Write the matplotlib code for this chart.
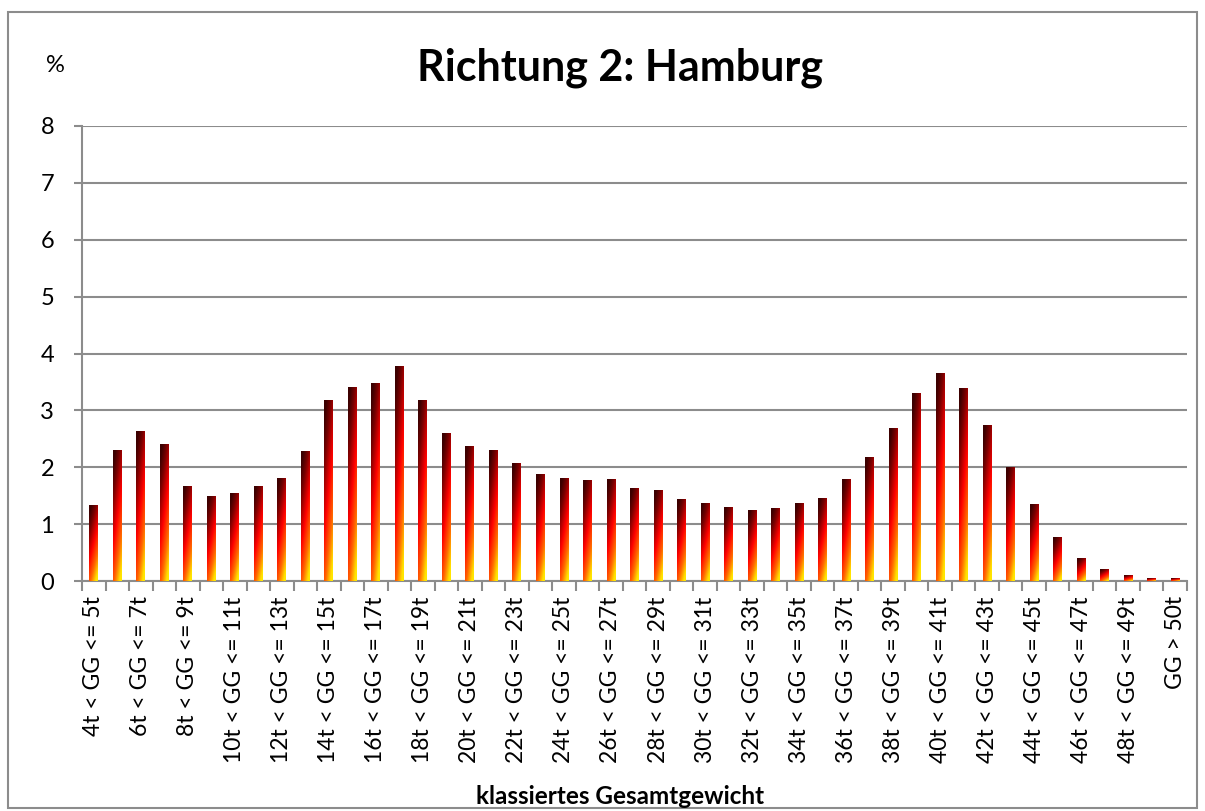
import matplotlib
matplotlib.use("Agg")
import matplotlib.pyplot as plt
import numpy as np
from matplotlib.colors import LinearSegmentedColormap
from matplotlib.patches import Rectangle

lower = list(range(4, 50))
categories = [f"{a}t < GG <= {a+1}t" for a in lower] + ["GG > 50t"]
values = [1.33, 2.30, 2.62, 2.40, 1.66, 1.48, 1.54, 1.66, 1.80, 2.27,
          3.18, 3.40, 3.47, 3.77, 3.18, 2.60, 2.36, 2.30, 2.06, 1.87,
          1.80, 1.77, 1.78, 1.62, 1.59, 1.43, 1.36, 1.29, 1.24, 1.27,
          1.36, 1.45, 1.78, 2.17, 2.68, 3.29, 3.65, 3.38, 2.73, 2.00,
          1.34, 0.76, 0.39, 0.20, 0.09, 0.05, 0.04]
yticks = [0, 1, 2, 3, 4, 5, 6, 7, 8]
title = "Richtung 2: Hamburg"
xlabel = "klassiertes Gesamtgewicht"
ylabel = "%"

plt.rcParams['font.family'] = ['Lato', 'DejaVu Sans']

fig = plt.figure(figsize=(12.05, 8.11), dpi=100)
ax = fig.add_axes([82/1205, 1-581/811, (1187-82)/1205, (581-126)/811])

cmap = LinearSegmentedColormap.from_list(
    "bar", [(0.0, "#3c0000"), (0.2, "#7a0000"), (0.5, "#ff0000"),
            (0.78, "#ff6a00"), (1.0, "#ffe600")])

n = len(values)
x = np.arange(n)
width = 0.38
ny, nx = 60, 12
vv = np.linspace(0, 1, ny)[:, None]
hh = np.linspace(0, 1, nx)[None, :]
grad = np.clip(0.8 * vv + 0.35 * hh - 0.08, 0, 1)

for xi, v in zip(x, values):
    ax.imshow(grad, cmap=cmap, vmin=0, vmax=1, aspect='auto',
              extent=(xi - width/2, xi + width/2, 0, v), origin='upper',
              interpolation='bilinear', zorder=3)
ax.set_xlim(-0.5, n - 0.5)
ax.set_ylim(0, 8)
ax.set_aspect('auto')

gc = "#8c8c8c"
ax.set_yticks(yticks)
ax.set_yticklabels([str(t) for t in yticks], fontsize=17)
ax.yaxis.grid(True, color=gc, linewidth=1.5, zorder=0)
ax.set_axisbelow(True)
ax.tick_params(axis='y', length=6, width=1.5, color=gc, pad=14)

ax.set_xticks(np.arange(-0.5, n, 1.0))
ax.set_xticklabels([])
ax.tick_params(axis='x', length=7, width=1.5, color=gc, direction='out')
for i in range(0, n, 2):
    ax.text(x[i], -0.27, categories[i], rotation=90, ha='center', va='top',
            fontsize=16.5, transform=ax.transData)

for s in ['top', 'right']:
    ax.spines[s].set_visible(False)
for s in ['left', 'bottom']:
    ax.spines[s].set_color(gc)
    ax.spines[s].set_linewidth(1.5)

fig.text(620/1205, 1-68/811, title, ha='center', va='center',
         fontsize=31, fontweight='bold')
fig.text(55/1205, 1-65/811, ylabel, ha='center', va='center', fontsize=17)
fig.text(620/1205, 1-797/811, xlabel, ha='center', va='center',
         fontsize=17.5, fontweight='bold')

fig.patches.append(Rectangle((8/1205, 1-808/811), (1197-8)/1205, (808-12)/811,
                             transform=fig.transFigure, fill=False,
                             edgecolor=gc, linewidth=1.5))

fig.savefig("out.png", dpi=100)
